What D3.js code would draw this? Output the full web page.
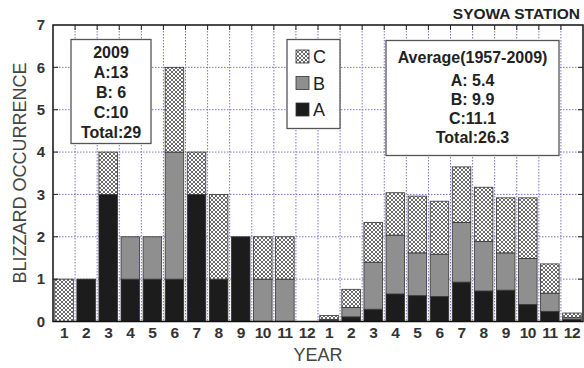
<!DOCTYPE html>
<html>
<head>
<meta charset="utf-8">
<script src="https://cdn.jsdelivr.net/npm/d3@7"></script>
<style>
  body { margin: 0; background: #fff; }
  svg { display: block; font-family: "Liberation Sans", Arial, sans-serif; }
</style>
</head>
<body>
<div id="chart"></div>
<script>
// month labels (x axis shows 2009 months then the 1957-2009 average months)
var months = ["1","2","3","4","5","6","7","8","9","10","11","12"];
var yTicks = [0,1,2,3,4,5,6,7];

// 2009 occurrences per month (stack segments)
var a2009 = [0, 1, 3, 1, 1, 1, 3, 1, 2, 0, 0, 0];
var b2009 = [0, 0, 0, 1, 1, 3, 0, 0, 0, 1, 1, 0];
var c2009 = [1, 0, 1, 0, 0, 2, 1, 2, 0, 1, 1, 0];

// average 1957-2009 per month (stack segments)
var aAvg = [0.02, 0.11, 0.29, 0.65, 0.61, 0.59, 0.93, 0.72, 0.74, 0.40, 0.24, 0.05];
var bAvg = [0.03, 0.22, 1.11, 1.39, 1.01, 1.00, 1.41, 1.17, 0.88, 1.09, 0.43, 0.04];
var cAvg = [0.09, 0.43, 0.94, 1.00, 1.34, 1.25, 1.31, 1.28, 1.30, 1.43, 0.69, 0.11];

var keys = ["A", "B", "C"];

var box2009 = ["2009", "A:13", "B: 6", "C:10", "Total:29"];
var boxAvg = ["Average(1957-2009)", "A: 5.4", "B: 9.9", "C:11.1", "Total:26.3"];

// build rows for stacking
var rows = [];
months.forEach(function(m, i) {
    rows.push({id: "y" + i, label: m, A: a2009[i], B: b2009[i], C: c2009[i]});
});
months.forEach(function(m, i) {
    rows.push({id: "a" + i, label: m, A: aAvg[i], B: bAvg[i], C: cAvg[i]});
});

var width = 584, height = 368;
var plotL = 53, plotR = 583, plotT = 25, plotB = 321.5;

var svg = d3.select("#chart").append("svg")
    .attr("width", width)
    .attr("height", height);

var defs = svg.append("defs");
var pat = defs.append("pattern")
    .attr("id", "hatch")
    .attr("patternUnits", "userSpaceOnUse")
    .attr("width", 4).attr("height", 4);
pat.append("rect").attr("width", 4).attr("height", 4).attr("fill", "#fff");
pat.append("path")
    .attr("d", "M0,0L4,4M4,0L0,4")
    .attr("stroke", "#444")
    .attr("stroke-width", 0.8);

var x = d3.scaleBand()
    .domain(rows.map(function(d) { return d.id; }))
    .range([plotL, plotR])
    .paddingInner(0.16)
    .paddingOuter(0.08);

var y = d3.scaleLinear().domain([0, 7]).range([plotB, plotT]);

var fills = {A: "#1c1c1c", B: "#8f8f8f", C: "url(#hatch)"};

// grid
var step = x.step();
function slotLeft(d) { return x(d.id) - step * 0.08; }
var grid = svg.append("g").attr("stroke", "#8073c9").attr("stroke-width", 1)
    .attr("stroke-dasharray", "1.5,1.5");
grid.selectAll(".hg").data(yTicks.slice(1, -1)).enter().append("line")
    .attr("x1", plotL).attr("x2", plotR)
    .attr("y1", function(d) { return y(d); })
    .attr("y2", function(d) { return y(d); });
grid.selectAll(".vg").data(rows.slice(1)).enter().append("line")
    .attr("x1", slotLeft)
    .attr("x2", slotLeft)
    .attr("y1", plotT).attr("y2", plotB);

// bars
var stack = d3.stack().keys(keys)(rows);
svg.append("g").selectAll("g").data(stack).enter().append("g")
    .attr("fill", function(s) { return fills[s.key]; })
    .selectAll("rect").data(function(s) { return s.filter(function(d) { return d[1] - d[0] > 0; }); })
    .enter().append("rect")
    .attr("x", function(d) { return x(d.data.id); })
    .attr("width", x.bandwidth())
    .attr("y", function(d) { return y(d[1]); })
    .attr("height", function(d) { return y(d[0]) - y(d[1]); })
    .attr("stroke", "#333")
    .attr("stroke-width", 0.8);

// frame and ticks
svg.append("rect")
    .attr("x", plotL).attr("y", plotT)
    .attr("width", plotR - plotL).attr("height", plotB - plotT)
    .attr("fill", "none").attr("stroke", "#111").attr("stroke-width", 1.5);

var tickG = svg.append("g").attr("stroke", "#222").attr("stroke-width", 1);
tickG.selectAll(".tt").data(rows.slice(1)).enter().append("line")
    .attr("x1", slotLeft)
    .attr("x2", slotLeft)
    .attr("y1", plotT).attr("y2", plotT + 5);
tickG.selectAll(".rt").data(yTicks.slice(1, -1)).enter().append("line")
    .attr("x1", plotR - 5).attr("x2", plotR)
    .attr("y1", function(d) { return y(d); })
    .attr("y2", function(d) { return y(d); });
tickG.selectAll(".lt").data(yTicks.slice(1, -1)).enter().append("line")
    .attr("x1", plotL).attr("x2", plotL + 5)
    .attr("y1", function(d) { return y(d); })
    .attr("y2", function(d) { return y(d); });

// axes labels
var yAxis = svg.append("g")
    .attr("transform", "translate(" + plotL + ",0)")
    .call(d3.axisLeft(y).tickValues(yTicks).tickSize(0).tickPadding(8).tickFormat(d3.format("d")));
yAxis.select(".domain").remove();
yAxis.selectAll("text")
    .attr("font-size", 15).attr("font-weight", "bold").attr("fill", "#333")
    .attr("font-family", "Liberation Sans, Arial, sans-serif");

var xAxis = svg.append("g")
    .attr("transform", "translate(0," + plotB + ")")
    .call(d3.axisBottom(x).tickSize(0).tickPadding(5)
        .tickFormat(function(id) { return rows.find(function(r) { return r.id === id; }).label; }));
xAxis.select(".domain").remove();
xAxis.selectAll("text")
    .attr("font-size", 15.5).attr("font-weight", "bold").attr("fill", "#333")
    .attr("letter-spacing", -0.5)
    .attr("font-family", "Liberation Sans, Arial, sans-serif");

svg.append("text")
    .attr("x", (plotL + plotR) / 2).attr("y", 361)
    .attr("text-anchor", "middle")
    .attr("font-size", 18).attr("fill", "#444")
    .text("YEAR");

svg.append("text")
    .attr("transform", "translate(26,173) rotate(-90)")
    .attr("text-anchor", "middle")
    .attr("font-size", 18).attr("fill", "#444")
    .text("BLIZZARD OCCURRENCE");

svg.append("text")
    .attr("x", 580).attr("y", 19)
    .attr("text-anchor", "end")
    .attr("font-size", 15.5).attr("font-weight", "bold").attr("fill", "#222")
    .text("SYOWA STATION");

// text boxes
function textBox(lines, bx, by, bw, bh, ys) {
    var g = svg.append("g");
    g.append("rect")
        .attr("x", bx).attr("y", by).attr("width", bw).attr("height", bh)
        .attr("fill", "#fff").attr("stroke", "#555").attr("stroke-width", 1.3);
    g.selectAll("text").data(lines).enter().append("text")
        .attr("x", bx + bw / 2)
        .attr("y", function(d, i) { return ys[i]; })
        .attr("text-anchor", "middle")
        .attr("font-size", 16).attr("font-weight", "bold").attr("fill", "#222")
        .text(function(d) { return d; });
}
textBox(box2009, 71, 39.5, 80, 104, [57.5, 77.5, 97.5, 117.5, 137.5]);
textBox(boxAvg, 386, 40.5, 173, 115, [63, 86, 105, 124, 143]);

// legend
var leg = svg.append("g");
leg.append("rect")
    .attr("x", 287).attr("y", 39.5).attr("width", 53).attr("height", 89)
    .attr("fill", "#fff").attr("stroke", "#555").attr("stroke-width", 1.3);
var legKeys = keys.slice().reverse();
var li = leg.selectAll(".li").data(legKeys).enter().append("g")
    .attr("transform", function(d, i) { return "translate(296," + (50 + i * 26.5) + ")"; });
li.append("rect")
    .attr("width", 13).attr("height", 13)
    .attr("fill", function(d) { return fills[d]; })
    .attr("stroke", "#333").attr("stroke-width", 0.8);
li.append("text")
    .attr("x", 17).attr("y", 13)
    .attr("font-size", 18).attr("fill", "#222")
    .text(function(d) { return d; });
</script>
</body>
</html>
